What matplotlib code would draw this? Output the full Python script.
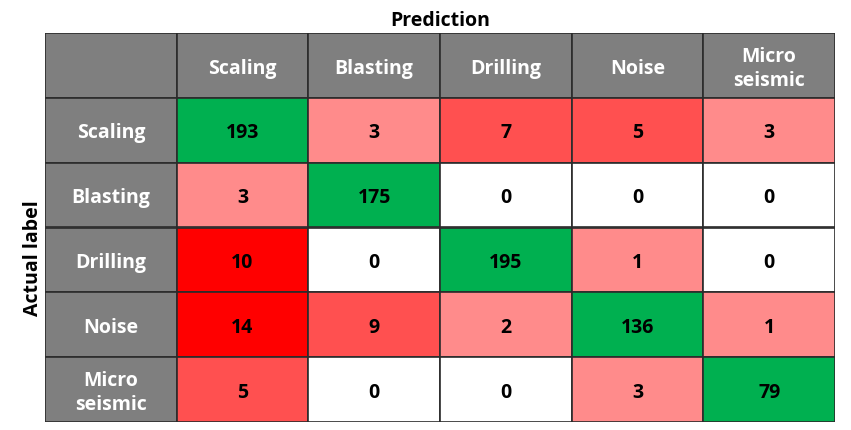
import numpy as np
import matplotlib.pyplot as plt
from matplotlib.patches import Rectangle

# Datos de la matriz de confusión
clases = ['Scaling', 'Blasting', 'Drilling', 'Noise', 'Micro\nseismic']
matriz = [
    [193, 3, 7, 5, 3],
    [3, 175, 0, 0, 0],
    [10, 0, 195, 1, 0],
    [14, 9, 2, 136, 1],
    [5, 0, 0, 3, 79],
]

gris = '#7f7f7f'
verde = '#00b050'


def color_celda(i, j, v):
    if i == j:
        return verde
    if v == 0:
        return 'white'
    if v <= 3:
        return '#ff8b8b'
    if v < 10:
        return '#ff5050'
    return '#ff0000'


plt.rcParams['font.family'] = ['Open Sans', 'DejaVu Sans']

fig = plt.figure(figsize=(8.51, 4.30), dpi=100)
ax = fig.add_axes([45 / 851, 8 / 430, 790 / 851, 389 / 430])
n = len(clases)
ax.set_xlim(0, n + 1)
ax.set_ylim(n + 1, 0)
ax.axis('off')

borde = dict(edgecolor='#2b2b2b', linewidth=1.2)
dy = 0.05  # pequeño ajuste vertical del texto

# Esquina y cabeceras
ax.add_patch(Rectangle((0, 0), 1, 1, facecolor=gris, **borde))
for k, nombre in enumerate(clases):
    ax.add_patch(Rectangle((k + 1, 0), 1, 1, facecolor=gris, **borde))
    ax.text(k + 1.5, 0.5 + dy, nombre, ha='center', va='center', color='white',
            fontsize=14, fontweight='bold', linespacing=1.25)
    ax.add_patch(Rectangle((0, k + 1), 1, 1, facecolor=gris, **borde))
    ax.text(0.5, k + 1.5 + dy, nombre, ha='center', va='center', color='white',
            fontsize=14, fontweight='bold', linespacing=1.25)

# Celdas de valores
for i in range(n):
    for j in range(n):
        v = matriz[i][j]
        ax.add_patch(Rectangle((j + 1, i + 1), 1, 1,
                               facecolor=color_celda(i, j, v), **borde))
        ax.text(j + 1.5, i + 1.5 + dy, str(v), ha='center', va='center',
                color='black', fontsize=14, fontweight='bold')

fig.text(440 / 851, 1 - 21 / 430, 'Prediction', ha='center', va='center',
         fontsize=14, fontweight='bold')
fig.text(33 / 851, 1 - 258 / 430, 'Actual label', ha='center', va='center',
         rotation=90, fontsize=14, fontweight='bold')

fig.savefig('out.png', dpi=100, facecolor='white')
